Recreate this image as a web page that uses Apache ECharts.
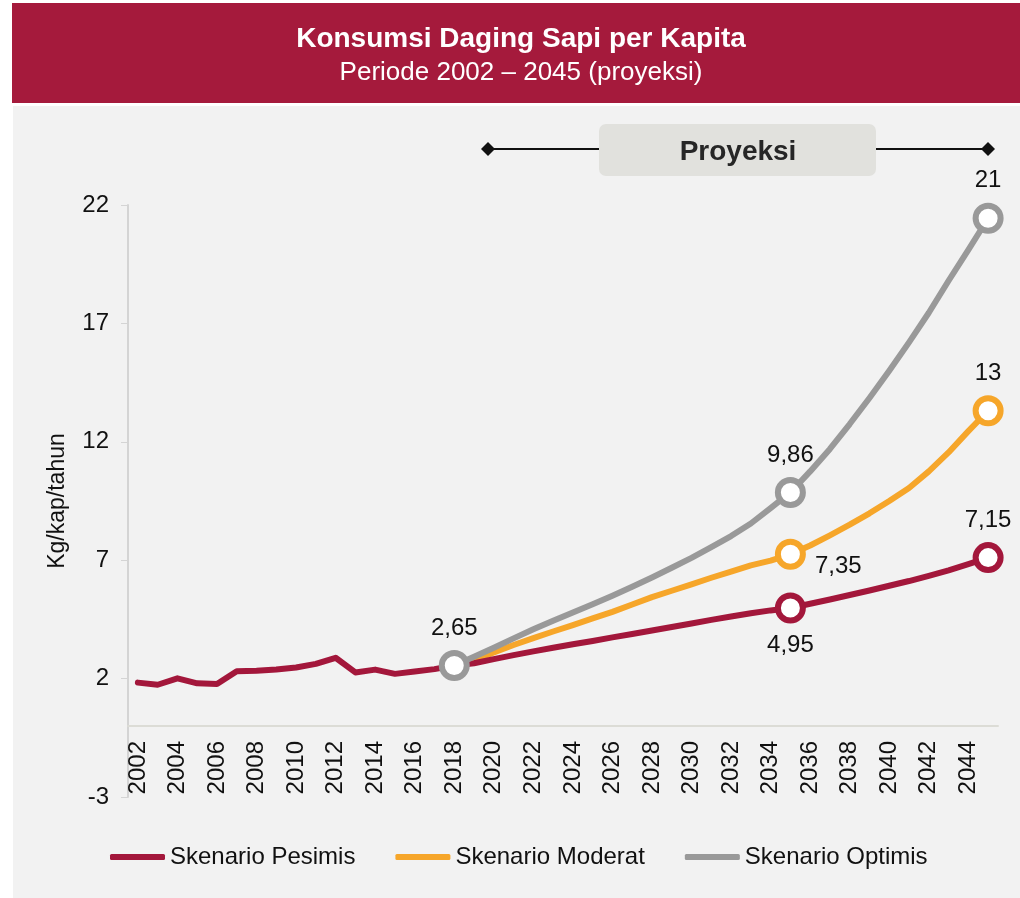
<!DOCTYPE html>
<html>
<head>
<meta charset="utf-8">
<script src="https://cdn.jsdelivr.net/npm/echarts@6/dist/echarts.min.js"></script>
<style>
  html, body { margin: 0; padding: 0; background: #fff; }
  #chart { width: 1020px; height: 898px; }
</style>
</head>
<body>
<div id="chart"></div>
<script>
// tahun 2002 - 2045
const years = ['2002','2003','2004','2005','2006','2007','2008','2009','2010','2011','2012',
  '2013','2014','2015','2016','2017','2018','2019','2020','2021','2022','2023','2024','2025',
  '2026','2027','2028','2029','2030','2031','2032','2033','2034','2035','2036','2037','2038',
  '2039','2040','2041','2042','2043','2044','2045']

// historis 2002-2018 + skenario pesimis 2019-2045
const pesimis = [1.83, 1.74, 2.01, 1.80, 1.77, 2.31, 2.33, 2.38, 2.47, 2.62, 2.88, 2.26, 2.38,
  2.20, 2.30, 2.40, 2.55,
  2.65, 2.82, 2.99, 3.15, 3.30, 3.45, 3.59, 3.74, 3.88, 4.03, 4.18, 4.33, 4.48, 4.62, 4.76,
  4.88, 4.98, 5.16, 5.34, 5.53, 5.72, 5.92, 6.12, 6.34, 6.57, 6.83, 7.11]

// proyeksi mulai 2018
const moderat = [null, null, null, null, null, null, null, null, null, null, null, null, null,
  null, null, null, 2.55,
  2.78, 3.10, 3.42, 3.71, 3.99, 4.26, 4.54, 4.82, 5.13, 5.44, 5.71, 5.98, 6.26, 6.52, 6.78,
  6.98, 7.25, 7.62, 8.05, 8.50, 8.98, 9.50, 10.05, 10.75, 11.55, 12.45, 13.31]

const optimis = [null, null, null, null, null, null, null, null, null, null, null, null, null,
  null, null, null, 2.55,
  2.92, 3.30, 3.70, 4.08, 4.44, 4.79, 5.14, 5.50, 5.88, 6.27, 6.68, 7.10, 7.55, 8.02, 8.55,
  9.20, 9.86, 10.75, 11.70, 12.75, 13.85, 15.00, 16.20, 17.45, 18.80, 20.10, 21.44]

// titik yang diberi penanda & label: [tahun, teks, posisi]
const pesimisMarks = [['2035', '4,95', 'bottom'], ['2045', '7,15', 'top']]
const moderatMarks = [['2035', '7,35', 'right'], ['2045', '13', 'top']]
const optimisMarks = [['2018', '2,65', 'top'], ['2035', '9,86', 'top'], ['2045', '21', 'top']]

const yTicks = { min: -3, max: 22, interval: 5 }

const RED = '#A3173B'
const ORANGE = '#F6A62A'
const GRAY = '#999999'

const font = 'Liberation Sans, Arial, sans-serif'

const buildData = (values, marks, color) => {
    return values.map((v, i) => {
        const mark = marks.find(m => m[0] === years[i])
        if (!mark) return { value: v, symbol: 'none' }
        const label = {
            show: true,
            formatter: mark[1],
            position: mark[2],
            distance: mark[2] === 'right' ? 9 : 10,
            fontSize: 24,
            color: '#111',
            fontFamily: font
        }
        if (mark[2] === 'right') label.offset = [0, 12]
        return {
            value: v,
            symbol: 'circle',
            symbolSize: 25,
            itemStyle: { color: '#fff', borderColor: color, borderWidth: 6 },
            label: label
        }
    })
}

const genSeries = (name, values, marks, color, z) => {
    return {
        name: name,
        type: 'line',
        color: color,
        z: z,
        showSymbol: true,
        showAllSymbol: true,
        connectNulls: false,
        lineStyle: { color: color, width: 6, cap: 'round', join: 'round' },
        emphasis: { disabled: true },
        data: buildData(values, marks, color)
    }
}

const option = {
    animation: false,
    backgroundColor: '#ffffff',
    textStyle: { fontFamily: font },
    graphic: [
        { type: 'rect', shape: { x: 12, y: 3, width: 1008, height: 100 }, style: { fill: '#A51A3C' }, z: -10 },
        { type: 'rect', shape: { x: 13, y: 106, width: 1007, height: 792 }, style: { fill: '#F2F2F2' }, z: -10 },
        { type: 'text', x: 521, y: 39, style: { text: 'Konsumsi Daging Sapi per Kapita', fill: '#fff',
            font: 'bold 28px ' + font, textAlign: 'center', textVerticalAlign: 'middle' } },
        { type: 'text', x: 521, y: 73, style: { text: 'Periode 2002 – 2045 (proyeksi)', fill: '#fff',
            font: '26px ' + font, textAlign: 'center', textVerticalAlign: 'middle' } },
        // penanda rentang proyeksi
        { type: 'line', shape: { x1: 488, y1: 149, x2: 988, y2: 149 }, style: { stroke: '#111', lineWidth: 2 } },
        { type: 'polygon', shape: { points: [[481, 149], [488, 142], [495, 149], [488, 156]] }, style: { fill: '#111' } },
        { type: 'polygon', shape: { points: [[981, 149], [988, 142], [995, 149], [988, 156]] }, style: { fill: '#111' } },
        { type: 'rect', shape: { x: 599, y: 124, width: 277, height: 52, r: 7 }, style: { fill: '#E1E1DD' }, z: 5 },
        { type: 'text', x: 738, y: 152, z: 6, style: { text: 'Proyeksi', fill: '#262626',
            font: 'bold 28px ' + font, textAlign: 'center', textVerticalAlign: 'middle' } }
    ],
    grid: { left: 128, right: 22, top: 205, bottom: 101, containLabel: false },
    legend: {
        left: 110,
        top: 845,
        padding: 0,
        icon: 'roundRect',
        itemWidth: 55,
        itemHeight: 6,
        itemGap: 40,
        textStyle: { fontSize: 24, color: '#111', fontFamily: font },
        data: ['Skenario Pesimis', 'Skenario Moderat', 'Skenario Optimis']
    },
    xAxis: {
        type: 'category',
        data: years,
        boundaryGap: true,
        // garis sumbu pada nilai 0
        offset: -71,
        axisLine: { onZero: false, lineStyle: { color: '#DCDCD6', width: 2 } },
        axisTick: { show: false },
        axisLabel: { interval: 1, rotate: 90, margin: 15, fontSize: 24, color: '#111', fontFamily: font },
        splitLine: { show: false }
    },
    yAxis: {
        type: 'value',
        min: yTicks.min,
        max: yTicks.max,
        interval: yTicks.interval,
        name: 'Kg/kap/tahun',
        nameLocation: 'middle',
        nameGap: 59,
        nameTextStyle: { fontSize: 23, color: '#111', fontFamily: font },
        axisLine: { show: true, lineStyle: { color: '#D4D4D4', width: 2 } },
        axisTick: { show: true, length: 7, lineStyle: { color: '#D4D4D4', width: 1 } },
        axisLabel: { margin: 19, fontSize: 24, color: '#111', fontFamily: font },
        splitLine: { show: false }
    },
    series: [
        genSeries('Skenario Pesimis', pesimis, pesimisMarks, RED, 4),
        genSeries('Skenario Moderat', moderat, moderatMarks, ORANGE, 3),
        genSeries('Skenario Optimis', optimis, optimisMarks, GRAY, 5)
    ]
}

const myChart = echarts.init(document.getElementById('chart'))
myChart.setOption(option)
</script>
</body>
</html>
